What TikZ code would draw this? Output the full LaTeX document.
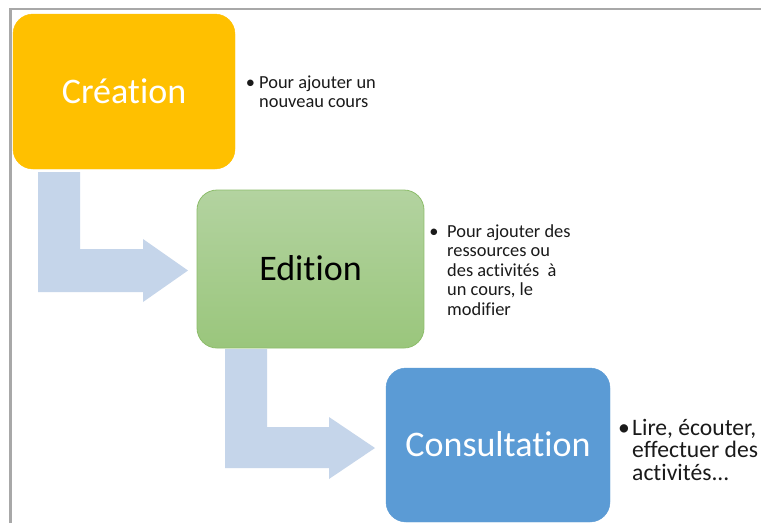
\documentclass[tikz,border=0pt]{standalone}
\usepackage{fontspec}
\setmainfont{Carlito}[Ligatures={NoCommon}]
\usetikzlibrary{calc}
\definecolor{creaC}{HTML}{FFC000}
\definecolor{editTop}{HTML}{B3D3A0}
\definecolor{editBot}{HTML}{9AC67C}
\definecolor{editLine}{HTML}{8DBD6B}
\definecolor{consC}{HTML}{5B9BD5}
\definecolor{arrC}{HTML}{C5D5EA}
\definecolor{frameC}{HTML}{A8A8A8}
\definecolor{txtC}{HTML}{1A1A1A}
\begin{document}
\begin{tikzpicture}[x=1pt,y=-1pt,
  stage/.style={rounded corners=20pt, outer sep=0pt, inner sep=0pt,
    text height=23pt, text depth=0pt, font=\fontsize{36}{43}\selectfont},
  bentarrow/.style={fill=arrC},
  bulletdot/.style={anchor=base, inner sep=0pt, text=txtC},
  desc/.style={anchor=base west, inner sep=0pt, text=txtC},
  smallfont/.style={font=\fontsize{18.4}{19.6}\selectfont},
  bigfont/.style={font=\fontsize{23.6}{23}\selectfont}]
\useasboundingbox (0,0) rectangle (761,523);
\fill[white] (0,0) rectangle (761,523);
\draw[frameC, line width=2.2pt] (10.5,523) -- (10.5,9) -- (761,9);

\node[stage, fill=creaC, draw=creaC, text=white, minimum width=222pt, minimum height=155pt] (crea) at (124,91.5) {Création};
\node[stage, top color=editTop, bottom color=editBot, draw=editLine, line width=0.8pt, text=black, minimum width=227pt, minimum height=158pt] (edit) at (310.5,269) {Edition};
\node[stage, fill=consC, draw=consC, text=white, minimum width=224pt, minimum height=154pt] (cons) at (498,445) {Consultation};

\fill[bentarrow] ($(crea.south west)+(25,3)$) coordinate (a1s) -- ++(42,0)
  |- ($(edit.west)+(-54,-20)$) -- ++(0,-10) -- ($(edit.west)+(-9,1.5)$)
  -- ($(edit.west)+(-54,33)$) -- ++(0,-10) -| (a1s) -- cycle;
\fill[bentarrow] ($(edit.south west)+(28,1)$) coordinate (a2s) -- ++(42,0)
  |- ($(cons.west)+(-57,-18)$) -- ++(0,-10) -- ($(cons.west)+(-11,3)$)
  -- ($(cons.west)+(-57,34)$) -- ++(0,-11) -| (a2s) -- cycle;

\node[bulletdot, smallfont] (b1) at (250.5,88) {•};
\node[desc, smallfont] (t1) at (259,88) {\vtop{\baselineskip=19.6pt\hbox{Pour ajouter un}\hbox{nouveau cours}}};
\node[bulletdot, smallfont] (b2) at (434,237) {•};
\node[desc, smallfont] (t2) at (447,237) {\vtop{\baselineskip=19.6pt\hbox{Pour ajouter des}\hbox{ressources ou}\hbox{des activités~~à}\hbox{un cours, le}\hbox{modifier}}};
\node[bulletdot, bigfont] (b3) at (624,435) {•};
\node[desc, bigfont] (t3) at (632,435) {\vtop{\baselineskip=22.5pt\hbox{Lire, écouter,}\hbox{effectuer des}\hbox{activités...}}};
\end{tikzpicture}
\end{document}
